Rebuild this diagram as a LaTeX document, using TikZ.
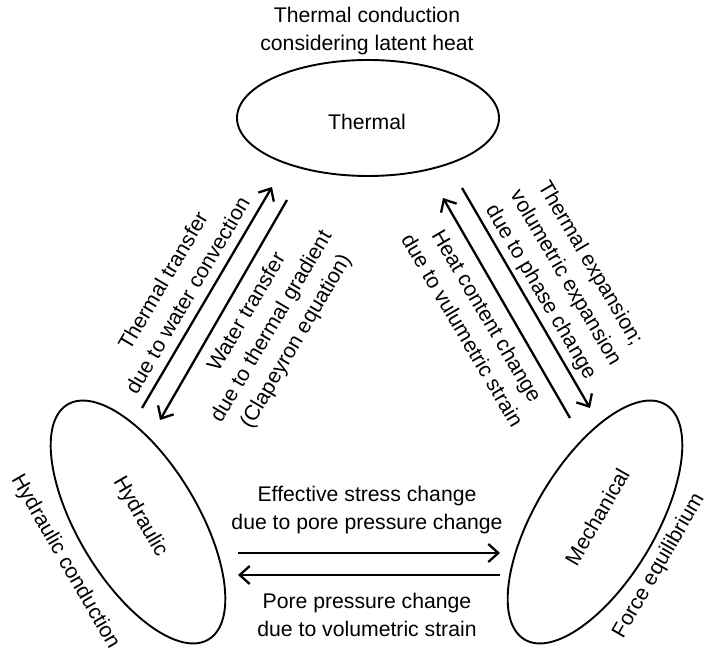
\documentclass[tikz,border=0pt]{standalone}
\usepackage{fontspec}
\setmainfont{Liberation Sans}
\usetikzlibrary{shapes.geometric,arrows.meta}
\begin{document}
\begin{tikzpicture}[x=1pt,y=1pt,
  fieldbox/.style={draw, ellipse, line width=1.9pt, inner sep=0pt},
  lbl/.style={font=\fontsize{21.2}{28.5}\selectfont, align=center, inner sep=0pt},
  link/.style={line width=2.3pt, -{Straight Barb[length=10pt,width=18pt]}},
]
\useasboundingbox (0,0) rectangle (706,653);
% domains
\node[fieldbox, minimum width=262, minimum height=116] (th) at (368,535) {};
\node[fieldbox, minimum width=274, minimum height=120, rotate=-59] (hy) at (138,131) {};
\node[fieldbox, minimum width=274, minimum height=120, rotate=59] (me) at (595,131) {};
% domain names
\node[lbl] (thl) at (367,531) {Thermal};
\node[lbl, rotate=-60] (hyl) at (140,136) {Hydraulic};
\node[lbl, rotate=60] (mel) at (597,136) {Mechanical};
% self processes
\node[lbl] (thc) at (367,622) {Thermal conduction\\considering latent heat};
\node[lbl, rotate=-60] (hyc) at (65,91) {Hydraulic conduction};
\node[lbl, rotate=60] (mec) at (659,87) {Force equilibrium};
% arrow endpoints
\coordinate (l1a) at (142,245); \coordinate (l1b) at (272,466);
\coordinate (l2a) at (287,453); \coordinate (l2b) at (160,233);
\coordinate (r1a) at (570,235); \coordinate (r1b) at (443,455);
\coordinate (r2a) at (462,465); \coordinate (r2b) at (590,245);
\coordinate (b1a) at (238,100); \coordinate (b1b) at (500,100);
\coordinate (b2a) at (500,78);  \coordinate (b2b) at (238,78);
\draw[link] (l1a) -- (l1b);
\draw[link] (l2a) -- (l2b);
\draw[link] (r1a) -- (r1b);
\draw[link] (r2a) -- (r2b);
\draw[link] (b1a) -- (b1b);
\draw[link] (b2a) -- (b2b);
% coupling labels
\node[lbl, rotate=59.5] (la) at (175,365) {Thermal transfer\\due to water convection};
\node[lbl, rotate=59.5] (lb) at (272,326) {Water transfer\\due to thermal gradient\\(Clapeyron equation)};
\node[lbl, rotate=-59.5] (ra) at (565,375) {Thermal expansion;\\volumetric expansion\\due to phase change};
\node[lbl, rotate=-59.5] (rb) at (475,330) {Heat content change\\due to vulumetric strain};
\node[lbl] (ba) at (367,143) {Effective stress change\\due to pore pressure change};
\node[lbl] (bb) at (367,38) {Pore pressure change\\due to volumetric strain};
\end{tikzpicture}
\end{document}
